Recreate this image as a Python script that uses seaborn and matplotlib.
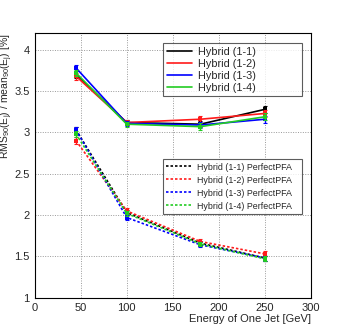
import numpy as np
import pandas as pd
import matplotlib
matplotlib.use("Agg")
import matplotlib.pyplot as plt
import seaborn as sns
from matplotlib.ticker import MultipleLocator

# =========================
# DATA
# =========================
energy = [45, 100, 180, 250]

labels = ["Hybrid (1-1)", "Hybrid (1-2)", "Hybrid (1-3)", "Hybrid (1-4)"]
colors = ["black", "#ff1a1a", "#0000ff", "#22cc22"]

# full reconstruction
res_11 = [3.70, 3.12, 3.10, 3.28]
res_12 = [3.68, 3.12, 3.16, 3.23]
res_13 = [3.78, 3.11, 3.09, 3.16]
res_14 = [3.72, 3.10, 3.07, 3.19]
err_full = [0.04, 0.03, 0.04, 0.04]

# perfect PFA
pfa_11 = [3.03, 2.03, 1.66, 1.48]
pfa_12 = [2.90, 2.05, 1.68, 1.53]
pfa_13 = [3.03, 1.97, 1.64, 1.48]
pfa_14 = [2.98, 2.02, 1.65, 1.47]
err_pfa = [0.04, 0.03, 0.03, 0.03]

full = [res_11, res_12, res_13, res_14]
pfa = [pfa_11, pfa_12, pfa_13, pfa_14]

# =========================
# PLOT
# =========================
sns.set_style("white")
plt.rcParams["font.family"] = ["Liberation Sans", "DejaVu Sans"]
plt.rcParams["mathtext.fontset"] = "custom"
plt.rcParams["mathtext.rm"] = "Liberation Sans"
plt.rcParams["mathtext.it"] = "Liberation Sans"

fig = plt.figure(figsize=(3.46, 3.33), dpi=100)
ax = fig.add_axes([0.100, 0.106, 0.799, 0.794])

for lab, col, vals in zip(labels, colors, full):
    sns.lineplot(x=energy, y=vals, color=col, lw=1.2, ax=ax, label=lab,
                 marker="s", markersize=2.5, markeredgewidth=0)
    ax.errorbar(energy, vals, yerr=err_full, fmt="none", ecolor=col,
                elinewidth=1.0, capsize=1.5, capthick=0.8)

for lab, col, vals in zip(labels, colors, pfa):
    sns.lineplot(x=energy, y=vals, color=col, lw=1.2, ax=ax,
                 label=lab + " PerfectPFA", linestyle=(0, (1.5, 1.2)),
                 marker="s", markersize=2.5, markeredgewidth=0)
    ax.errorbar(energy, vals, yerr=err_pfa, fmt="none", ecolor=col,
                elinewidth=1.0, capsize=1.5, capthick=0.8)

handles, hl = ax.get_legend_handles_labels()
ax.get_legend().remove()

leg_kw = dict(loc="upper left", mode="expand", frameon=True, fancybox=False,
              borderpad=0.35, borderaxespad=0)

leg1 = ax.legend(handles[:4], hl[:4],
                 bbox_to_anchor=(0.465, 0.775, 0.502, 0.187),
                 fontsize=7.8, handlelength=2.3, handletextpad=0.6,
                 labelspacing=0.17, **leg_kw)
ax.add_artist(leg1)
leg2 = ax.legend(handles[4:], hl[4:],
                 bbox_to_anchor=(0.465, 0.334, 0.502, 0.189),
                 fontsize=6.4, handlelength=2.8, handletextpad=0.7,
                 labelspacing=0.45, **leg_kw)

for leg in (leg1, leg2):
    leg.get_frame().set_edgecolor("#333333")
    leg.get_frame().set_linewidth(0.8)
    for h in leg.get_lines():
        h.set_marker("")

ax.set_xlim(0, 300)
ax.set_ylim(1, 4.2)
ax.xaxis.set_minor_locator(MultipleLocator(10))
ax.yaxis.set_minor_locator(MultipleLocator(0.1))
ax.set_xticks([0, 50, 100, 150, 200, 250, 300])
ax.set_xticklabels(["0", "50", "100", "150", "200", "250", "300"])
ax.set_yticks([1, 1.5, 2, 2.5, 3, 3.5, 4])
ax.set_yticklabels(["1", "1.5", "2", "2.5", "3", "3.5", "4"])
ax.tick_params(which="both", direction="in", top=False, right=False,
               labelsize=8)
ax.tick_params(which="major", length=5, width=0.6)
ax.tick_params(which="minor", length=2.5, width=0.6)

ax.grid(True, which="major", color="#999999", linestyle=(0, (1, 1.5)),
        linewidth=0.7)
for s in ax.spines.values():
    s.set_color("black")
    s.set_linewidth(0.8)

ax.set_xlabel("Energy of One Jet [GeV]", fontsize=8, loc="right", labelpad=1)
ax.set_ylabel(r"RMS$_{90}$(E$_{j}$) / mean$_{90}$(E$_{j}$) [%]", fontsize=7.5,
              loc="top")
ax.yaxis.set_label_coords(-0.07, 1.0)

fig.savefig("out.png", dpi=100)
